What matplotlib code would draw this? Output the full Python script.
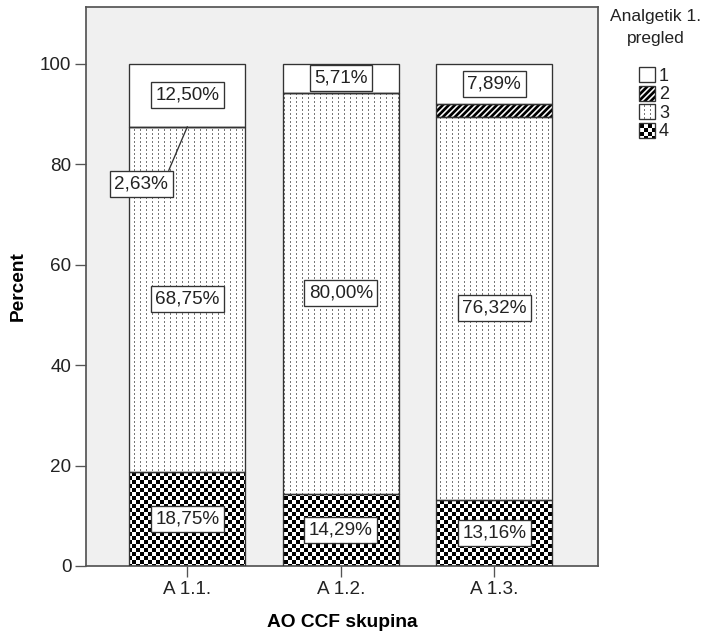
import warnings
import matplotlib
matplotlib.use('Agg')
import matplotlib.pyplot as plt
import matplotlib.hatch as mhatch
from matplotlib.path import Path
from matplotlib.patches import Patch
import numpy as np

warnings.filterwarnings('ignore', message='hatch must consist')

# data (percent of each group)
categories = ['A 1.1.', 'A 1.2.', 'A 1.3.']
levels = ['1', '2', '3', '4']
pct_1 = [12.50, 5.71, 7.89]
pct_2 = [0.00, 0.00, 2.63]
pct_3 = [68.75, 80.00, 76.32]
pct_4 = [18.75, 14.29, 13.16]
y_ticks = [0, 20, 40, 60, 80, 100]

DPI = 96
PX = 1.0 / DPI  # one pixel of the hatch tile (tile = 72pt = DPI pixels)


def box(x0, y0, w, h):
    return [(x0, y0), (x0 + w, y0), (x0 + w, y0 + h), (x0, y0 + h)]


# SPSS-like fill patterns as filled hatch shapes
class TileHatch(mhatch.HatchPatternBase):
    key = None

    def __init__(self, hatch, density):
        self.polys = self.shapes() if (self.key and self.key in hatch) else []
        self.num_vertices = 5 * len(self.polys)

    def shapes(self):
        return []

    def set_vertices_and_codes(self, vertices, codes):
        for i, p in enumerate(self.polys):
            vertices[5 * i:5 * i + 4] = p
            vertices[5 * i + 4] = p[0]
            codes[5 * i] = Path.MOVETO
            codes[5 * i + 1:5 * i + 4] = Path.LINETO
            codes[5 * i + 4] = Path.CLOSEPOLY


class CheckerHatch(TileHatch):
    key = 'c'

    def shapes(self):
        n = DPI // 4
        return [box(i / n, j / n, 1 / n, 1 / n)
                for i in range(n) for j in range(n) if (i + j) % 2 == 0]


class DashHatch(TileHatch):
    key = 'd'

    def shapes(self):
        return [box(c * 6 * PX + 2 * PX, r * 4 * PX + 1 * PX, 1 * PX, 2 * PX)
                for c in range(DPI // 6) for r in range(DPI // 4)]


class StripeHatch(TileHatch):
    key = 's'

    def shapes(self):
        n = DPI // 6
        w = 3.8 * PX
        out = []
        for k in range(-n, n + 1):
            c = k / n
            out.append([(c, 0), (c + w, 0), (c + w + 1, 1), (c + 1, 1)])
        return out


mhatch._hatch_types.extend([CheckerHatch, DashHatch, StripeHatch])
plt.rcParams['hatch.linewidth'] = 0.0
plt.rcParams['font.family'] = ['Liberation Sans', 'DejaVu Sans']

fig = plt.figure(figsize=(710 / DPI, 634 / DPI), dpi=DPI)
ax = fig.add_axes([86 / 710, 68 / 634, 512 / 710, 559 / 634])
ax.set_facecolor('#f0f0f0')

x = np.arange(len(categories))
width = 0.756
edge = '#333333'
txt_col = '#222222'
styles = {'4': ('c', 'black'), '3': ('d', '#777777'), '2': ('s', 'black'), '1': ('', 'white')}
series = {'4': pct_4, '3': pct_3, '2': pct_2, '1': pct_1}

bottom = np.zeros(len(categories))
handles = {}
for lev in ['4', '3', '2', '1']:
    vals = np.array(series[lev])
    h, hc = styles[lev]
    ax.bar(x, vals, width, bottom=bottom, color='white', edgecolor=hc,
           hatch=h, linewidth=0, zorder=2)
    ax.bar(x, vals, width, bottom=bottom, fill=False, edgecolor=edge,
           linewidth=1, zorder=3)
    for i, v in enumerate(vals):
        if v <= 0:
            continue
        txt = f'{v:.2f}%'.replace('.', ',')
        bb = dict(boxstyle='square,pad=0.24', fc='white', ec=edge, lw=1)
        if v < 5:
            # small segment: label pushed aside with a leader line (as SPSS did)
            ax.annotate(txt, xy=(0, pct_4[0] + pct_3[0]), xytext=(-0.30, 76.1),
                        ha='center', va='center', fontsize=14.2, color=txt_col,
                        bbox=bb, zorder=5,
                        arrowprops=dict(arrowstyle='-', color=edge, lw=1,
                                        relpos=(0.97, 1.0), shrinkA=0, shrinkB=0))
        else:
            ax.text(x[i], bottom[i] + v / 2, txt, ha='center', va='center',
                    fontsize=14.2, color=txt_col, bbox=bb, zorder=5)
    bottom += vals
    handles[lev] = (Patch(facecolor='white', edgecolor=hc, hatch=h, linewidth=0),
                    Patch(fill=False, edgecolor=edge, linewidth=1))

ax.set_xlim(-0.66, 2.675)
ax.set_ylim(0, 111.35)
ax.set_xticks(x)
ax.set_xticklabels(categories)
ax.set_yticks(y_ticks)
ax.tick_params(direction='out', length=8, width=1, color='#555555',
               labelsize=14.2, labelcolor=txt_col, pad=3)
for s in ax.spines.values():
    s.set_color('#555555')
    s.set_linewidth(1.3)

ax.set_xlabel('AO CCF skupina', fontsize=14.3, fontweight='bold', labelpad=12)
ax.set_ylabel('Percent', fontsize=14.3, fontweight='bold', labelpad=10)

# legend title placed on its own, entries below it
fig.text(656 / 710, 1 - 9 / 634, 'Analgetik 1.\npregled', ha='center', va='top',
         fontsize=13, color=txt_col, linespacing=1.6, multialignment='center')
fig.legend([handles[l] for l in levels], levels,
           loc='upper center', bbox_to_anchor=(654 / 710, 1 - 67 / 634),
           frameon=False, fontsize=13.5, labelcolor=txt_col,
           handlelength=0.9, handleheight=0.9, handletextpad=0.2,
           labelspacing=0.05, borderpad=0, borderaxespad=0)

fig.savefig('out.png', dpi=DPI)
